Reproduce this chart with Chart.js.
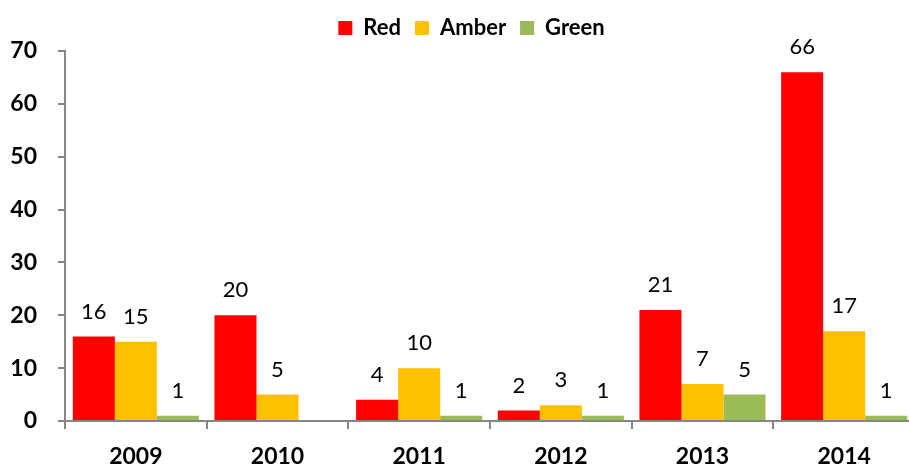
<!DOCTYPE html>
<html>
<head>
<meta charset="utf-8">
<script src="https://cdn.jsdelivr.net/npm/chart.js@4/dist/chart.umd.min.js"></script>
<style>
  html, body { margin: 0; padding: 0; background: #fff; overflow: hidden; }
  #wrap { width: 915px; height: 466px; position: relative; }
</style>
</head>
<body>
<div id="wrap"><canvas id="myChart"></canvas></div>
<script>
// data
var years = ['2009', '2010', '2011', '2012', '2013', '2014'];
var redValues = [16, 20, 4, 2, 21, 66];
var amberValues = [15, 5, 10, 3, 7, 17];
var greenValues = [1, null, 1, 1, 5, 1];
var yTicks = [0, 10, 20, 30, 40, 50, 60, 70];

var axisGrey = '#868686';
var fontName = 'Lato, "Open Sans", sans-serif';

// numbers above each bar
var barLabels = {
    id: 'barLabels',
    afterDatasetsDraw: function (chart) {
        var ctx = chart.ctx;
        ctx.save();
        ctx.font = '22px ' + fontName;
        ctx.fillStyle = '#000';
        ctx.textAlign = 'center';
        ctx.textBaseline = 'middle';
        chart.data.datasets.forEach(function (ds, i) {
            var meta = chart.getDatasetMeta(i);
            meta.data.forEach(function (bar, j) {
                var v = ds.data[j];
                if (v === null || v === undefined) return;
                ctx.fillText(v, bar.x, bar.y - 25);
            });
        });
        ctx.restore();
    }
};

// legend in the original sits a bit right of centre
var legendShift = {
    id: 'legendShift',
    afterLayout: function (chart) {
        chart.legend.left += 14;
        chart.legend.right += 14;
        chart.legend.top -= 2;
        chart.legend.bottom -= 2;
    }
};

var ctx = document.getElementById('myChart').getContext('2d');
var myChart = new Chart(ctx, {
    type: 'bar',
    data: {
        labels: years,
        datasets: [
            { label: 'Red', data: redValues, backgroundColor: '#FF0000' },
            { label: 'Amber', data: amberValues, backgroundColor: '#FFC000' },
            { label: 'Green', data: greenValues, backgroundColor: '#9BBB59' }
        ]
    },
    options: {
        responsive: true,
        maintainAspectRatio: false,
        animation: false,
        devicePixelRatio: 1,
        layout: { padding: { top: 5, left: 0, right: 0, bottom: 0 } },
        datasets: {
            bar: { barPercentage: 1, categoryPercentage: 0.89 }
        },
        scales: {
            x: {
                afterFit: function (axis) { axis.height = 45; },
                border: { display: true, color: axisGrey, width: 2 },
                grid: { display: true, drawOnChartArea: false, drawTicks: true, tickLength: 8, color: axisGrey, lineWidth: 2, offset: true },
                ticks: { color: '#000', padding: 14, font: { family: fontName, size: 23, weight: 'bold' } }
            },
            y: {
                min: 0,
                max: 70,
                afterFit: function (axis) { axis.width = 65; },
                afterBuildTicks: function (axis) {
                    axis.ticks = yTicks.map(function (v) { return { value: v }; });
                },
                border: { display: true, color: axisGrey, width: 2 },
                grid: { display: true, drawOnChartArea: false, drawTicks: true, tickLength: 7, color: axisGrey, lineWidth: 2 },
                ticks: { color: '#000', padding: 21, font: { family: fontName, size: 23, weight: 'bold' } }
            }
        },
        plugins: {
            legend: {
                position: 'top',
                labels: {
                    boxWidth: 14,
                    boxHeight: 14,
                    padding: 14,
                    color: '#000',
                    font: { family: fontName, size: 22, weight: 'bold' }
                }
            },
            tooltip: { enabled: false }
        }
    },
    plugins: [barLabels, legendShift]
});
</script>
</body>
</html>
